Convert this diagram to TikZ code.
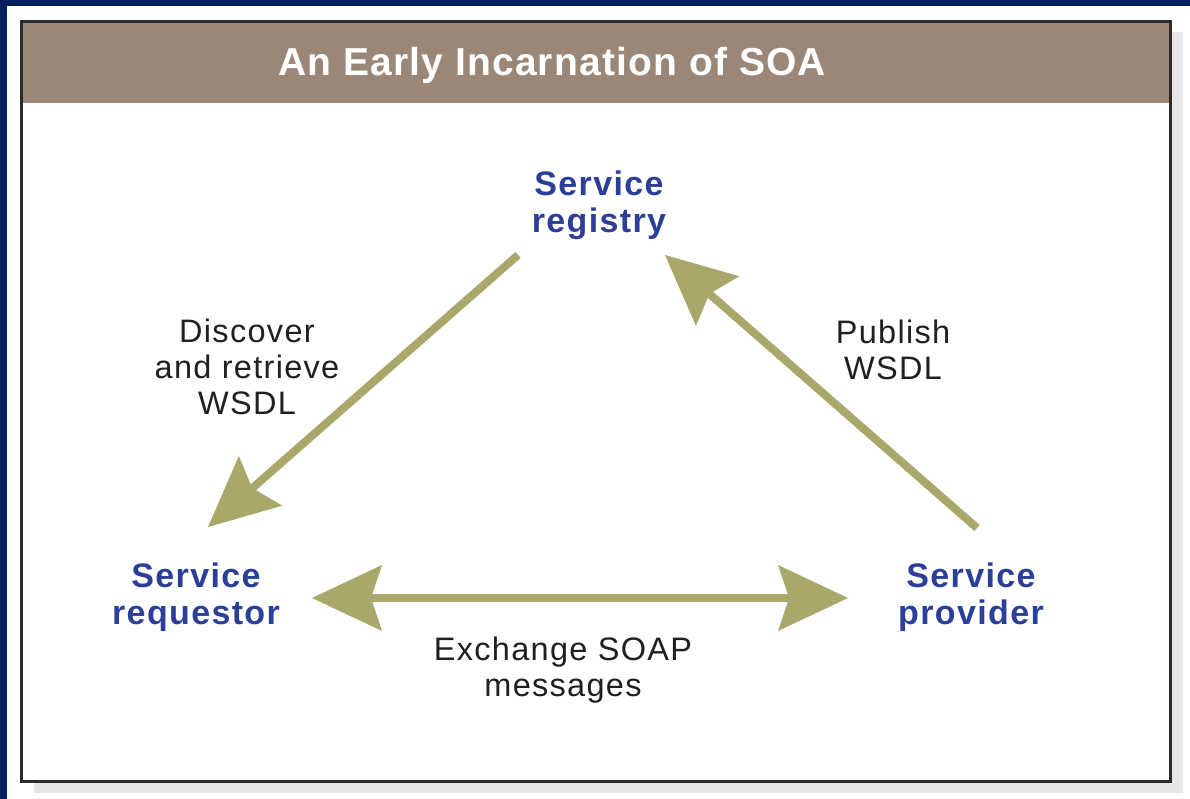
\documentclass[tikz,border=0pt]{standalone}
\usepackage{fontspec}
\setsansfont{Liberation Sans}[LetterSpace=4]
\newfontfamily\titlefont{Liberation Sans}[LetterSpace=3]
\usetikzlibrary{arrows.meta}
\definecolor{framenavy}{HTML}{001F60}
\definecolor{shadowgray}{HTML}{E6E6E6}
\definecolor{boxdark}{HTML}{2B2B2B}
\definecolor{bandbrown}{HTML}{9B8778}
\definecolor{roleblue}{HTML}{2B3F98}
\definecolor{notegray}{HTML}{231F20}
\definecolor{flowkhaki}{HTML}{A9A86A}
\begin{document}
\begin{tikzpicture}[
x=1bp,y=-1bp,
font=\sffamily,
wedge/.tip={Stealth[length=70bp,width=66bp,inset=11bp,line width=0pt]},
title/.style={text=white,font=\titlefont\bfseries\fontsize{39bp}{44bp}\selectfont,inner sep=0pt},
role/.style={text=roleblue,font=\sffamily\bfseries\fontsize{34bp}{37bp}\selectfont,align=center,inner sep=0pt},
note/.style={text=notegray,font=\sffamily\fontsize{32.5bp}{36bp}\selectfont,align=center,inner sep=0pt},
flow/.style={draw=flowkhaki,line width=8bp,-wedge}
]
\useasboundingbox (0,0) rectangle (1190,799);
% page frame and card
\fill[white] (0,0) rectangle (1190,799);
\fill[framenavy] (0,0) rectangle (7,799);
\fill[framenavy] (0,0) rectangle (1190,6);
\fill[shadowgray] (34,32) rectangle (1183,793);
\draw[boxdark,line width=3bp,fill=white] (21.5,21.5) rectangle (1170.5,781.5);
\fill[bandbrown] (23,23) rectangle (1169,103);
\node[title] (title) at (552,65) {An Early Incarnation of SOA};

% the three roles
\node[role] (reg) at (599,205) {Service\\registry};
\node[role] (req) at (196,597) {Service\\requestor};
\node[role] (prov) at (971,597) {Service\\provider};

% labels
\node[note] (discover) at (247,367) {Discover\\and retrieve\\WSDL};
\node[note] (publish) at (893,350) {Publish\\WSDL};
\node[note] (exchange) at (563,670) {Exchange SOAP\\messages};

% arrows
\draw[flow] ([shift={(-81,50)}]reg.center) -- ([shift={(12,-70)}]req.center);
\draw[flow] ([shift={(6,-69)}]prov.center) -- ([shift={(66,50)}]reg.center);
\draw[flow,wedge-wedge] ([shift={(116,1)}]req.center) -- ([shift={(-123,1)}]prov.center);

\end{tikzpicture}
\end{document}
